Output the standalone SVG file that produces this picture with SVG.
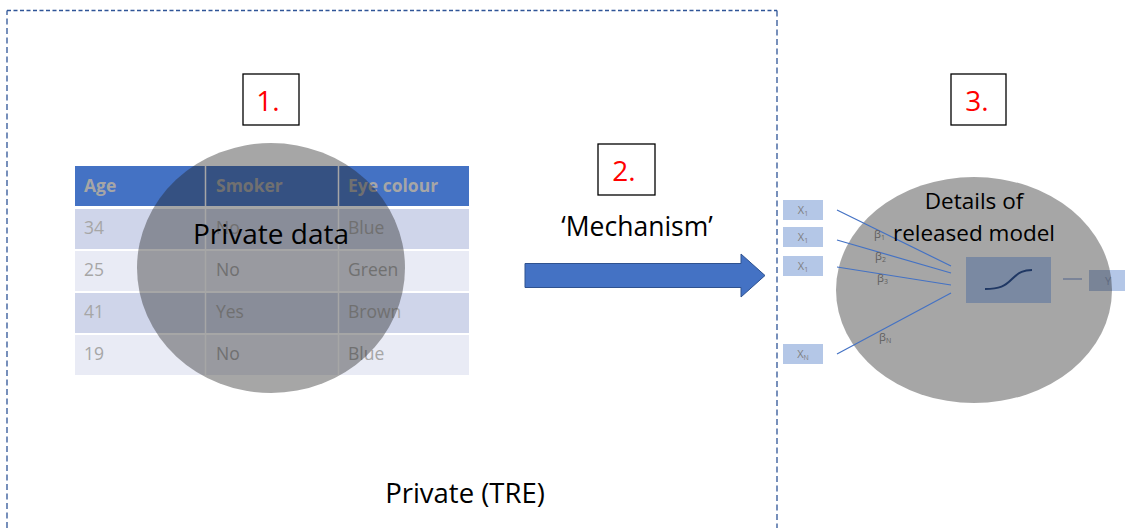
<svg xmlns="http://www.w3.org/2000/svg" width="1125" height="528" viewBox="0 0 1125 528">
<style>
text{font-family:"Open Sans","Liberation Sans",sans-serif}
.lbl{fill:#000;text-anchor:middle}
.num{font-size:28px;fill:#FF0000;text-anchor:middle}
.numbox{fill:#fff;stroke:#000;stroke-width:1.3}
.th{font-size:17.5px;font-weight:bold;fill:#A6A6A6}
.td{font-size:17.5px;fill:#A6A6A6}
.xb{fill:#B4C7E7}
.xt{font-size:11px;fill:#7F7F7F;text-anchor:middle}
.bt{font-size:11px;fill:#5F5F5F}
.wl{stroke:#4472C4;stroke-width:1.2;fill:none}
</style>
<rect width="1125" height="528" fill="#fff"/>
<g id="tre-boundary">
<path d="M7,528 V10.5" fill="none" stroke="#2F5597" stroke-width="1.3" stroke-dasharray="6,3.5"/>
<path d="M7,10.5 H777" fill="none" stroke="#2F5597" stroke-width="1.3" stroke-dasharray="4,2.5"/>
<path d="M777,10.5 V528" fill="none" stroke="#2F5597" stroke-width="1.3" stroke-dasharray="6,3.5"/>
<text class="lbl" x="465" y="503" style="font-size:27.5px">Private (TRE)</text>
</g>
<g id="private-data">
<rect x="75" y="166" width="394" height="40" fill="#4472C4"/>
<rect x="75" y="209" width="394" height="40" fill="#CFD5EA"/>
<rect x="75" y="251" width="394" height="40" fill="#E9EBF5"/>
<rect x="75" y="293" width="394" height="40" fill="#CFD5EA"/>
<rect x="75" y="335" width="394" height="40" fill="#E9EBF5"/>
<path d="M205.5,166 V375 M338.5,166 V375" stroke="#fff" stroke-width="1.5"/>
<text class="th" x="84" y="192">Age</text>
<text class="th" x="216" y="192">Smoker</text>
<text class="th" x="348" y="192">Eye colour</text>
<text class="td" x="84" y="234">34</text><text class="td" x="216" y="234">No</text><text class="td" x="348" y="234">Blue</text>
<text class="td" x="84" y="276">25</text><text class="td" x="216" y="276">No</text><text class="td" x="348" y="276">Green</text>
<text class="td" x="84" y="318">41</text><text class="td" x="216" y="318">Yes</text><text class="td" x="348" y="318">Brown</text>
<text class="td" x="84" y="360">19</text><text class="td" x="216" y="360">No</text><text class="td" x="348" y="360">Blue</text>
<ellipse cx="271" cy="268" rx="134" ry="125" fill="#202020" fill-opacity="0.4"/>
<text class="lbl" x="271" y="244" style="font-size:28px">Private data</text>
</g>
<g id="step1">
<rect class="numbox" x="243" y="74" width="56" height="51"/>
<text class="num" x="268" y="111">1.</text>
</g>
<g id="step2">
<rect class="numbox" x="598" y="144" width="57" height="51"/>
<text class="num" x="624" y="181">2.</text>
</g>
<g id="step3">
<rect class="numbox" x="951" y="74" width="55" height="51"/>
<text class="num" x="977" y="111">3.</text>
</g>
<g id="connectors">
<path d="M525,263.5 H741 V254 L765,275.5 L741,297 V287.5 H525 Z" fill="#4472C4" stroke="#2F528F" stroke-width="1"/>
<text class="lbl" x="637" y="236" style="font-size:26.5px">‘Mechanism’</text>
</g>
<g id="released-model">
<rect x="1089" y="270" width="40" height="21" fill="#B4C7E7"/>
<ellipse cx="974" cy="290" rx="138" ry="113" fill="#202020" fill-opacity="0.4"/>
<text x="1108" y="285" font-size="11" fill="#5F6A80" text-anchor="middle">Y</text>
<line x1="1063" y1="279" x2="1082" y2="279" stroke="#5F6F8F" stroke-width="1.2"/>
<rect x="966" y="257" width="85" height="46" fill="#7686A2" fill-opacity="0.9"/>
<path d="M985,289 C1000,289 1005,286 1012,279 C1019,272 1024,270 1032,270" fill="none" stroke="#203864" stroke-width="2"/>
<rect class="xb" x="783" y="200" width="40" height="20"/>
<rect class="xb" x="783" y="227" width="40" height="20"/>
<rect class="xb" x="783" y="256" width="40" height="20"/>
<rect class="xb" x="783" y="344" width="40" height="20"/>
<text class="xt" x="803" y="214">X<tspan font-size="7" dy="2">1</tspan></text>
<text class="xt" x="803" y="241">X<tspan font-size="7" dy="2">1</tspan></text>
<text class="xt" x="803" y="270">X<tspan font-size="7" dy="2">1</tspan></text>
<text class="xt" x="803" y="358">X<tspan font-size="7" dy="2">N</tspan></text>
<path class="wl" d="M837,210 L951,266 M837,240 L951,273 M837,267 L951,285 M837,354 L951,293"/>
<text class="bt" x="874" y="238">β<tspan font-size="7" dy="2">1</tspan></text>
<text class="bt" x="875" y="260">β<tspan font-size="7" dy="2">2</tspan></text>
<text class="bt" x="877" y="282">β<tspan font-size="7" dy="2">3</tspan></text>
<text class="bt" x="879" y="341">β<tspan font-size="7" dy="2">N</tspan></text>
<text class="lbl" x="974" y="209" style="font-size:22.5px">Details of</text>
<text class="lbl" x="974" y="241" style="font-size:22.5px">released model</text>
</g>
</svg>
